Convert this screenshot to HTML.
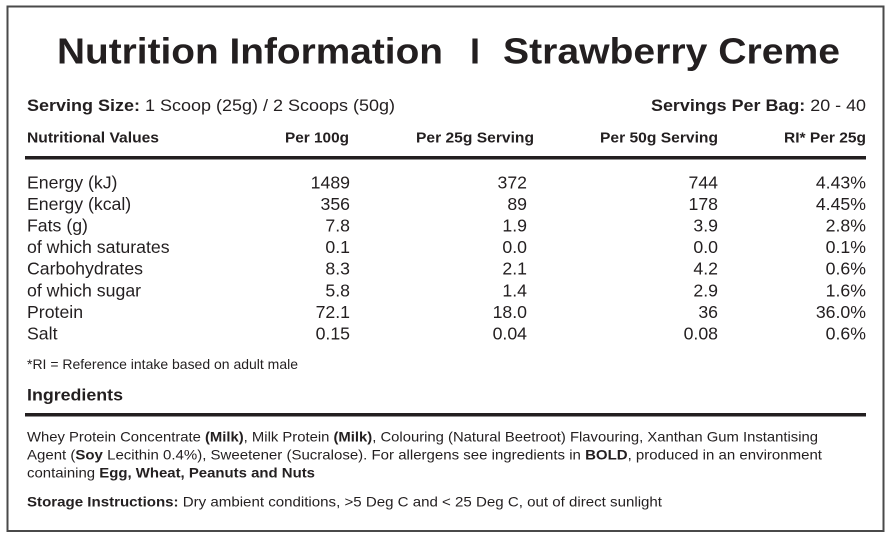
<!DOCTYPE html>
<html><head><meta charset="utf-8"><style>
html,body{margin:0;padding:0;background:#fff;}
svg{display:block;}
text{font-family:"Liberation Sans",Arial,sans-serif;fill:#231f20;}
.b{font-weight:bold;}
</style></head><body>
<svg width="890" height="538" viewBox="0 0 890 538" xmlns="http://www.w3.org/2000/svg">
<rect x="0" y="0" width="890" height="538" fill="#fff"/>
<rect x="7.5" y="6.5" width="876" height="524.5" fill="none" stroke="#4a4a4a" stroke-width="2"/>

<text class="b" x="57" y="63.5" font-size="36" textLength="386" lengthAdjust="spacingAndGlyphs">Nutrition Information</text>
<text class="b" x="470" y="63.5" font-size="36">I</text>
<text class="b" x="503" y="63.5" font-size="36" textLength="337" lengthAdjust="spacingAndGlyphs">Strawberry Creme</text>

<text x="27" y="111" font-size="17" textLength="368" lengthAdjust="spacingAndGlyphs"><tspan class="b">Serving Size:</tspan> 1 Scoop (25g) / 2 Scoops (50g)</text>
<text x="651" y="111" font-size="17" textLength="215" lengthAdjust="spacingAndGlyphs"><tspan class="b">Servings Per Bag:</tspan> 20 - 40</text>

<text class="b" x="27" y="142.5" font-size="15" textLength="132" lengthAdjust="spacingAndGlyphs">Nutritional Values</text>
<text class="b" x="285" y="142.5" font-size="15" textLength="64" lengthAdjust="spacingAndGlyphs">Per 100g</text>
<text class="b" x="416" y="142.5" font-size="15" textLength="118" lengthAdjust="spacingAndGlyphs">Per 25g Serving</text>
<text class="b" x="600" y="142.5" font-size="15" textLength="118" lengthAdjust="spacingAndGlyphs">Per 50g Serving</text>
<text class="b" x="784" y="142.5" font-size="15" textLength="82" lengthAdjust="spacingAndGlyphs">RI* Per 25g</text>

<rect x="25" y="156" width="841" height="3.5" fill="#231f20"/>

<g font-size="17.7">
<text x="27" y="188.3">Energy (kJ)</text>
<text x="27" y="209.9">Energy (kcal)</text>
<text x="27" y="231.5">Fats (g)</text>
<text x="27" y="253.1">of which saturates</text>
<text x="27" y="274.7">Carbohydrates</text>
<text x="27" y="296.3">of which sugar</text>
<text x="27" y="317.9">Protein</text>
<text x="27" y="339.5">Salt</text>
</g>
<g font-size="17.7" text-anchor="end">
<text x="350" y="188.3">1489</text>
<text x="350" y="209.9">356</text>
<text x="350" y="231.5">7.8</text>
<text x="350" y="253.1">0.1</text>
<text x="350" y="274.7">8.3</text>
<text x="350" y="296.3">5.8</text>
<text x="350" y="317.9">72.1</text>
<text x="350" y="339.5">0.15</text>

<text x="527" y="188.3">372</text>
<text x="527" y="209.9">89</text>
<text x="527" y="231.5">1.9</text>
<text x="527" y="253.1">0.0</text>
<text x="527" y="274.7">2.1</text>
<text x="527" y="296.3">1.4</text>
<text x="527" y="317.9">18.0</text>
<text x="527" y="339.5">0.04</text>

<text x="718" y="188.3">744</text>
<text x="718" y="209.9">178</text>
<text x="718" y="231.5">3.9</text>
<text x="718" y="253.1">0.0</text>
<text x="718" y="274.7">4.2</text>
<text x="718" y="296.3">2.9</text>
<text x="718" y="317.9">36</text>
<text x="718" y="339.5">0.08</text>

<text x="866" y="188.3">4.43%</text>
<text x="866" y="209.9">4.45%</text>
<text x="866" y="231.5">2.8%</text>
<text x="866" y="253.1">0.1%</text>
<text x="866" y="274.7">0.6%</text>
<text x="866" y="296.3">1.6%</text>
<text x="866" y="317.9">36.0%</text>
<text x="866" y="339.5">0.6%</text>
</g>

<text x="27" y="369" font-size="14" textLength="271" lengthAdjust="spacingAndGlyphs">*RI = Reference intake based on adult male</text>

<text class="b" x="27" y="400.7" font-size="17" textLength="96" lengthAdjust="spacingAndGlyphs">Ingredients</text>

<rect x="25" y="413" width="841" height="3.5" fill="#231f20"/>

<g font-size="14">
<text x="27" y="441.7" textLength="791" lengthAdjust="spacingAndGlyphs">Whey Protein Concentrate <tspan class="b">(Milk)</tspan>, Milk Protein <tspan class="b">(Milk)</tspan>, Colouring (Natural Beetroot) Flavouring, Xanthan Gum Instantising</text>
<text x="27" y="459.5" textLength="795" lengthAdjust="spacingAndGlyphs">Agent (<tspan class="b">Soy</tspan> Lecithin 0.4%), Sweetener (Sucralose). For allergens see ingredients in <tspan class="b">BOLD</tspan>, produced in an environment</text>
<text x="27" y="477.3" textLength="288" lengthAdjust="spacingAndGlyphs">containing <tspan class="b">Egg, Wheat, Peanuts and Nuts</tspan></text>
<text x="27" y="506.7" textLength="635" lengthAdjust="spacingAndGlyphs"><tspan class="b">Storage Instructions:</tspan> Dry ambient conditions, &gt;5 Deg C and &lt; 25 Deg C,  out of direct sunlight</text>
</g>
</svg>
</body></html>
